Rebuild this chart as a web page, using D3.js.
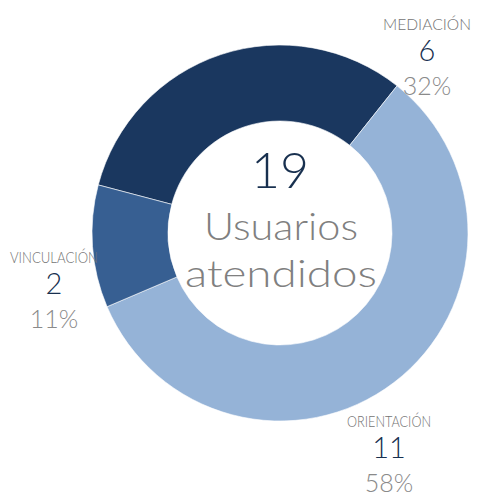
<!DOCTYPE html>
<html>
<head>
<meta charset="utf-8">
<title>Usuarios atendidos</title>
<style>
body { margin: 0; background: #fff; }
text { font-family: "Century Gothic", "Lato", "Open Sans", sans-serif; font-weight: 300; }
.cat { fill: #737373; }
.num { fill: #18304f; }
.pct { fill: #8a8a8a; }
</style>
</head>
<body>
<script src="https://cdn.jsdelivr.net/npm/d3@7"></script>
<script>

// data
var categories = ["MEDIACIÓN", "ORIENTACIÓN", "VINCULACIÓN"];
var values = [6, 11, 2];
var colors = ["#1a375f", "#95b3d7", "#375f92"];
var centerLabel = "Usuarios atendidos";

var width = 479,
    height = 498;

var cx = 280, cy = 233,
    outerR = 188, innerR = 112;

var total = d3.sum(values);

var svg = d3.select("body").append("svg")
    .attr("width", width)
    .attr("height", height);

var g = svg.append("g")
    .attr("transform", "translate(" + cx + "," + cy + ")");

// first slice starts so that mediacion/orientacion split sits at ~38.5deg
var start = 38.5 * Math.PI / 180 - values[0] / total * 2 * Math.PI;

var pie = d3.pie()
    .sort(null)
    .startAngle(start)
    .endAngle(start + 2 * Math.PI);

var arc = d3.arc()
    .innerRadius(innerR)
    .outerRadius(outerR);

var slices = pie(values);

g.selectAll("path")
    .data(slices)
    .enter().append("path")
    .attr("d", arc)
    .attr("fill", function(d, i) { return colors[i]; })
    .attr("stroke", "#fff")
    .attr("stroke-width", 0.6);

// label placement (excel "best fit" style, tuned by eye)
var labelPos = {
  "MEDIACIÓN":   {x: 427, y: 30, w: 88},
  "ORIENTACIÓN": {x: 389, y: 427, w: 84},
  "VINCULACIÓN": {x: 54,  y: 263, w: 88}
};

var fmt = d3.format(".0%");

slices.forEach(function(d, i) {
  var p = labelPos[categories[i]];
  var lg = svg.append("g").attr("transform", "translate(" + p.x + "," + p.y + ")");
  lg.append("text")
      .attr("class", "cat")
      .attr("text-anchor", "middle")
      .attr("font-size", 15)
      .attr("textLength", p.w)
      .attr("lengthAdjust", "spacingAndGlyphs")
      .text(categories[i]);
  lg.append("text")
      .attr("class", "num")
      .attr("text-anchor", "middle")
      .attr("y", 31)
      .attr("font-size", 29)
      .text(values[i]);
  lg.append("text")
      .attr("class", "pct")
      .attr("text-anchor", "middle")
      .attr("y", 65)
      .attr("font-size", 25)
      .text(fmt(values[i] / total));
});

// center text
g.append("text")
    .attr("class", "num")
    .attr("text-anchor", "middle")
    .attr("y", -45)
    .attr("font-size", 50)
    .text(total);

var words = centerLabel.split(" ");
var wordW = [154, 192];
g.selectAll("text.center")
    .data(words)
    .enter().append("text")
    .attr("class", "center")
    .attr("text-anchor", "middle")
    .attr("x", 1)
    .attr("y", function(d, i) { return 7 + i * 47; })
    .attr("font-size", 38)
    .attr("textLength", function(d, i) { return wordW[i]; })
    .attr("lengthAdjust", "spacingAndGlyphs")
    .attr("fill", "#808080")
    .text(function(d) { return d; });

</script>
</body>
</html>
